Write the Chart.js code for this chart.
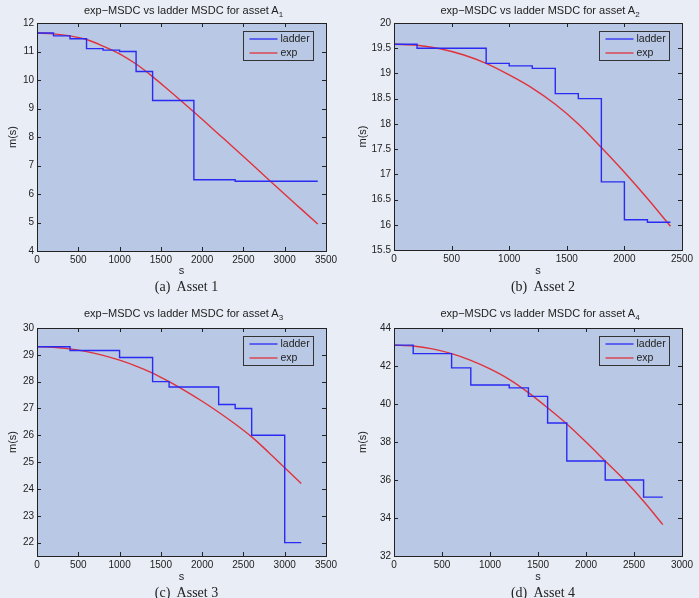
<!DOCTYPE html>
<html>
<head>
<meta charset="utf-8">
<script src="https://cdn.jsdelivr.net/npm/chart.js@4/dist/chart.umd.min.js"></script>
<style>
  html, body { margin:0; padding:0; background:#e9edf6; }
  body { width:699px; height:598px; position:relative; overflow:hidden; font-family:"Liberation Sans", Arial, sans-serif; }
  .panel { position:absolute; }
  .panel canvas { position:absolute; left:0; top:0; }
  .ttl { position:absolute; font-size:11px; line-height:13px; color:#222; white-space:nowrap; transform:translateX(-50%); }
  .ttl sub { font-size:8px; vertical-align:-3px; line-height:0; }
  .cap { position:absolute; font-family:"Liberation Serif","DejaVu Serif",serif; font-size:14px; line-height:16px; color:#222; white-space:nowrap; transform:translateX(-50%); }
</style>
</head>
<body>
<script>
// ---------- DATA ----------
const seriesNames = ["ladder", "exp"];
const panelTitles = ["exp\u2212MSDC vs ladder MSDC for asset A", "exp\u2212MSDC vs ladder MSDC for asset A", "exp\u2212MSDC vs ladder MSDC for asset A", "exp\u2212MSDC vs ladder MSDC for asset A"];
const titleSubs = ["1", "2", "3", "4"];
const captions = ["(a)\u00a0 Asset 1", "(b)\u00a0 Asset 2", "(c)\u00a0 Asset 3", "(d)\u00a0 Asset 4"];

// Asset 1
const ladderX_A1 = [0, 200, 400, 600, 800, 1000, 1200, 1400, 1900, 2400, 3400];
const ladderY_A1 = [11.65, 11.55, 11.45, 11.1, 11.05, 11.0, 10.3, 9.28, 6.5, 6.45, 6.45];
const expX_A1 = [0, 200, 400, 600, 800, 1000, 1200, 1400, 1600, 1800, 2000, 2200, 2400, 2600, 2800, 3000, 3200, 3400];
const expY_A1 = [11.65, 11.62, 11.55, 11.42, 11.19, 10.92, 10.56, 10.12, 9.63, 9.13, 8.62, 8.1, 7.58, 7.05, 6.52, 5.99, 5.47, 4.95];
const xTicks_A1 = [0, 500, 1000, 1500, 2000, 2500, 3000, 3500];
const yTicks_A1 = [4, 5, 6, 7, 8, 9, 10, 11, 12];

// Asset 2
const ladderX_A2 = [0, 200, 800, 1000, 1200, 1400, 1600, 1800, 2000, 2200, 2400];
const ladderY_A2 = [19.58, 19.5, 19.2, 19.15, 19.1, 18.6, 18.5, 16.85, 16.1, 16.05, 16.05];
const expX_A2 = [0, 200, 400, 600, 800, 1000, 1200, 1400, 1600, 1800, 2000, 2200, 2400];
const expY_A2 = [19.58, 19.56, 19.49, 19.37, 19.2, 18.97, 18.71, 18.39, 18.0, 17.53, 17.04, 16.52, 15.97];
const xTicks_A2 = [0, 500, 1000, 1500, 2000, 2500];
const yTicks_A2 = [15.5, 16, 16.5, 17, 17.5, 18, 18.5, 19, 19.5, 20];

// Asset 3
const ladderX_A3 = [0, 400, 1000, 1400, 1600, 2200, 2400, 2600, 3000, 3200];
const ladderY_A3 = [29.3, 29.16, 28.9, 28.0, 27.8, 27.15, 27.0, 26.0, 22.0, 22.0];
const expX_A3 = [0, 200, 400, 600, 800, 1000, 1200, 1400, 1600, 1800, 2000, 2200, 2400, 2600, 2800, 3000, 3200];
const expY_A3 = [29.3, 29.28, 29.22, 29.12, 28.98, 28.8, 28.58, 28.32, 28.0, 27.65, 27.27, 26.86, 26.42, 25.94, 25.38, 24.79, 24.2];
const xTicks_A3 = [0, 500, 1000, 1500, 2000, 2500, 3000, 3500];
const yTicks_A3 = [22, 23, 24, 25, 26, 27, 28, 29, 30];

// Asset 4
const ladderX_A4 = [0, 200, 600, 800, 1200, 1400, 1600, 1800, 2200, 2600, 2800];
const ladderY_A4 = [43.1, 42.65, 41.9, 41.0, 40.85, 40.4, 39.0, 37.0, 36.0, 35.1, 35.1];
const expX_A4 = [0, 200, 400, 600, 800, 1000, 1200, 1400, 1600, 1800, 2000, 2200, 2400, 2600, 2800];
const expY_A4 = [43.1, 43.05, 42.9, 42.65, 42.3, 41.85, 41.3, 40.6, 39.8, 38.95, 38.0, 37.0, 36.0, 34.88, 33.65];
const xTicks_A4 = [0, 500, 1000, 1500, 2000, 2500, 3000];
const yTicks_A4 = [32, 34, 36, 38, 40, 42, 44];

// ---------- LAYOUT / STYLE ----------
const layouts = [
  { left:0,   top:0,   W:350, H:282, pl:37, pt:23, pr:326, pb:251, xMin:0, xMax:3500, yMin:4,    yMax:12, titleTop:4,   capTop:279 },
  { left:350, top:0,   W:349, H:282, pl:44, pt:23, pr:332, pb:250, xMin:0, xMax:2500, yMin:15.5, yMax:20, titleTop:4,   capTop:279 },
  { left:0,   top:300, W:350, H:288, pl:37, pt:28, pr:326, pb:256, xMin:0, xMax:3500, yMin:21.5, yMax:30, titleTop:307, capTop:585 },
  { left:350, top:300, W:349, H:288, pl:44, pt:28, pr:332, pb:256, xMin:0, xMax:3000, yMin:32,   yMax:44, titleTop:307, capTop:585 }
];
const panelData = [
  [ladderX_A1, ladderY_A1, expX_A1, expY_A1, xTicks_A1, yTicks_A1],
  [ladderX_A2, ladderY_A2, expX_A2, expY_A2, xTicks_A2, yTicks_A2],
  [ladderX_A3, ladderY_A3, expX_A3, expY_A3, xTicks_A3, yTicks_A3],
  [ladderX_A4, ladderY_A4, expX_A4, expY_A4, xTicks_A4, yTicks_A4]
];
const PLOT_BG = '#b9c9e5';
const BLUE = '#2a2af2';
const RED = '#e0323c';
const AXIS = '#222222';
const FONT = '"Liberation Sans", Arial, sans-serif';

const framePlugin = {
  id: 'frame',
  beforeDraw(chart) {
    const a = chart.chartArea, ctx = chart.ctx;
    ctx.save();
    ctx.fillStyle = PLOT_BG;
    ctx.fillRect(a.left, a.top, a.right - a.left, a.bottom - a.top);
    ctx.restore();
  },
  afterDraw(chart) {
    const a = chart.chartArea, ctx = chart.ctx;
    const xs = chart.scales.x, ys = chart.scales.y;
    ctx.save();
    ctx.strokeStyle = AXIS;
    ctx.lineWidth = 1;
    ctx.strokeRect(Math.round(a.left) + 0.5, Math.round(a.top) + 0.5, Math.round(a.right - a.left), Math.round(a.bottom - a.top));
    const tl = 4;
    ctx.beginPath();
    xs.ticks.forEach(t => {
      const px = Math.round(xs.getPixelForValue(t.value)) + 0.5;
      ctx.moveTo(px, a.bottom); ctx.lineTo(px, a.bottom - tl);
      ctx.moveTo(px, a.top); ctx.lineTo(px, a.top + tl);
    });
    ys.ticks.forEach(t => {
      const py = Math.round(ys.getPixelForValue(t.value)) + 0.5;
      ctx.moveTo(a.left, py); ctx.lineTo(a.left + tl, py);
      ctx.moveTo(a.right, py); ctx.lineTo(a.right - tl, py);
    });
    ctx.stroke();

    // legend box inside plot area
    const bw = 70, bh = 29;
    const bx = Math.round(a.right - 13 - bw) + 0.5, by = Math.round(a.top + 8) + 0.5;
    ctx.fillStyle = PLOT_BG;
    ctx.fillRect(bx, by, bw, bh);
    ctx.strokeStyle = '#333';
    ctx.strokeRect(bx, by, bw, bh);
    ctx.font = '10.5px ' + FONT;
    ctx.textBaseline = 'middle';
    chart.data.datasets.forEach((ds, i) => {
      const yy = by + 7.5 + i * 14;
      ctx.strokeStyle = ds.borderColor;
      ctx.lineWidth = 1.3;
      ctx.beginPath(); ctx.moveTo(bx + 6, yy); ctx.lineTo(bx + 34, yy); ctx.stroke();
      ctx.fillStyle = '#222';
      ctx.fillText(ds.label, bx + 37, yy);
    });
    ctx.restore();
  }
};

layouts.forEach((L, i) => {
  const [lx, ly, ex, ey, xt, yt] = panelData[i];
  const panel = document.createElement('div');
  panel.className = 'panel';
  panel.style.left = L.left + 'px';
  panel.style.top = L.top + 'px';
  panel.style.width = L.W + 'px';
  panel.style.height = L.H + 'px';
  const cv = document.createElement('canvas');
  cv.width = L.W; cv.height = L.H;
  cv.style.width = L.W + 'px'; cv.style.height = L.H + 'px';
  panel.appendChild(cv);
  document.body.appendChild(panel);

  const ttl = document.createElement('div');
  ttl.className = 'ttl';
  ttl.style.left = (L.left + (L.pl + L.pr) / 2 + 2) + 'px';
  ttl.style.top = L.titleTop + 'px';
  ttl.innerHTML = panelTitles[i] + '<sub>' + titleSubs[i] + '</sub>';
  document.body.appendChild(ttl);

  const cap = document.createElement('div');
  cap.className = 'cap';
  cap.style.left = (L.left + (L.pl + L.pr) / 2 + 5) + 'px';
  cap.style.top = L.capTop + 'px';
  cap.textContent = captions[i];
  document.body.appendChild(cap);

  new Chart(cv, {
    type: 'line',
    data: {
      datasets: [
        { label: seriesNames[0], data: lx.map((x, k) => ({ x: x, y: ly[k] })), borderColor: BLUE, borderWidth: 1.4, pointRadius: 0, stepped: 'before', fill: false },
        { label: seriesNames[1], data: ex.map((x, k) => ({ x: x, y: ey[k] })), borderColor: RED, borderWidth: 1.4, pointRadius: 0, cubicInterpolationMode: 'monotone', fill: false }
      ]
    },
    options: {
      responsive: false,
      animation: false,
      devicePixelRatio: 1,
      layout: { padding: { left: 0, top: L.pt, right: L.W - L.pr, bottom: 0 } },
      plugins: { legend: { display: false }, title: { display: false }, tooltip: { enabled: false } },
      scales: {
        x: {
          type: 'linear', min: L.xMin, max: L.xMax,
          grid: { display: false, drawTicks: false }, border: { display: false },
          afterBuildTicks: s => { s.ticks = xt.map(v => ({ value: v })); },
          afterFit: s => { s.height = L.H - L.pb; },
          ticks: { color: AXIS, font: { family: FONT, size: 10 }, padding: 3, maxRotation: 0, autoSkip: false, callback: v => String(v) },
          title: { display: true, text: 's', color: AXIS, font: { family: FONT, size: 11 }, padding: { top: 0, bottom: 4 } }
        },
        y: {
          type: 'linear', min: L.yMin, max: L.yMax,
          grid: { display: false, drawTicks: false }, border: { display: false },
          afterBuildTicks: s => { s.ticks = yt.map(v => ({ value: v })); },
          afterFit: s => { s.width = L.pl; },
          ticks: { color: AXIS, font: { family: FONT, size: 10 }, padding: 3, autoSkip: false, callback: v => String(v) },
          title: { display: true, text: 'm(s)', color: AXIS, font: { family: FONT, size: 11 }, padding: { top: 6, bottom: 0 } }
        }
      }
    },
    plugins: [framePlugin]
  });
});
</script>
</body>
</html>
